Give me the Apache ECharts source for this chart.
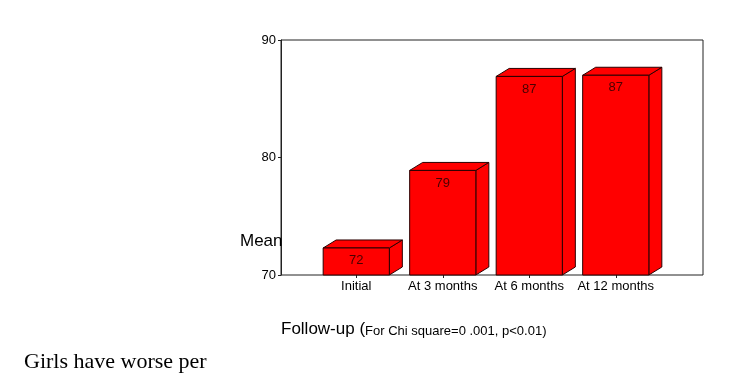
<!DOCTYPE html>
<html>
<head>
<meta charset="utf-8">
<script src="https://cdn.jsdelivr.net/npm/echarts@6/dist/echarts.min.js"></script>
<style>
  html, body { margin: 0; padding: 0; background: #fff; }
  #chart { width: 739px; height: 391px; }
</style>
</head>
<body>
<div id="chart"></div>
<script>
var categories = ['Initial', 'At 3 months', 'At 6 months', 'At 12 months']
var means = [72.3, 78.9, 86.9, 87.0]
var meanLabels = ['72', '79', '87', '87']
var yTicks = [70, 80, 90]

var chart = echarts.init(document.getElementById('chart'))

// draws one 3d box: front face, top, right side
function renderBox(params, api) {
  var idx = api.value(0)
  var top = api.coord([idx, api.value(1)])
  var base = api.coord([idx, yTicks[0]])
  var band = api.size([1, 0])[0]
  var w = band * 0.765
  var dx = 13, dy = 8
  var x0 = top[0] - w / 2, x1 = top[0] + w / 2
  var y0 = top[1], y1 = base[1]
  var edge = { fill: '#ff0000', stroke: '#2a0000', lineWidth: 1 }
  return {
    type: 'group',
    children: [
      {
        type: 'polygon',
        shape: { points: [[x1, y0], [x1 + dx, y0 - dy], [x1 + dx, y1 - dy], [x1, y1]] },
        style: edge
      },
      {
        type: 'polygon',
        shape: { points: [[x0, y0], [x0 + dx, y0 - dy], [x1 + dx, y0 - dy], [x1, y0]] },
        style: edge
      },
      {
        type: 'rect',
        shape: { x: x0, y: y0, width: w, height: y1 - y0 },
        style: edge
      },
      {
        type: 'text',
        style: {
          x: top[0], y: y0 + 6,
          text: meanLabels[params.dataIndex],
          align: 'center', verticalAlign: 'top',
          fill: '#4a0000', font: '13px Arial, "Liberation Sans", sans-serif'
        }
      }
    ]
  }
}

var sans = 'Arial, "Liberation Sans", sans-serif'

var option = {
  animation: false,
  title: [
    {
      text: 'Mean', left: 240, top: 233, padding: 0,
      textStyle: { fontSize: 17, fontWeight: 'normal', color: '#000', fontFamily: sans }
    },
    {
      text: '{a|Follow-up (}{b|For Chi square=0 .001, p<0.01)}', left: 281, top: 321, padding: 0,
      textStyle: {
        fontWeight: 'normal',
        rich: {
          a: { fontSize: 17, fontWeight: 'normal', color: '#000', fontFamily: sans },
          b: { fontSize: 13, fontWeight: 'normal', color: '#000', fontFamily: sans, padding: [3, 0, 0, 0] }
        }
      }
    },
    {
      text: 'Girls have worse per', left: 24, top: 351, padding: 0,
      textStyle: { fontSize: 22, fontWeight: 'normal', color: '#000', fontFamily: '"Liberation Serif", "Times New Roman", serif' }
    }
  ],
  grid: [
    { left: 281, right: 36, top: 40, bottom: 116, show: true, borderColor: '#222', borderWidth: 1 },
    { left: 313, width: 346, top: 40, bottom: 116 }
  ],
  xAxis: [
    { gridIndex: 0, type: 'value', show: false },
    {
      gridIndex: 1, type: 'category', data: categories,
      axisLine: { show: false },
      axisTick: { show: true, alignWithLabel: true, length: 3, interval: 0, lineStyle: { color: '#222' } },
      axisLabel: { color: '#000', fontSize: 13, margin: 5, interval: 0, fontFamily: sans }
    }
  ],
  yAxis: [
    {
      gridIndex: 0, type: 'value', min: 70, max: 90, interval: 10,
      axisLine: { show: true, lineStyle: { color: '#222' } },
      axisTick: { show: true, length: 3, lineStyle: { color: '#222' } },
      axisLabel: { color: '#000', fontSize: 13, margin: 5, fontFamily: sans },
      splitLine: { show: false }
    },
    { gridIndex: 1, type: 'value', min: 70, max: 90, show: false, splitLine: { show: false } }
  ],
  series: [
    {
      type: 'custom',
      xAxisIndex: 1, yAxisIndex: 1,
      renderItem: renderBox,
      data: means.map(function (v, i) { return [i, v] })
    }
  ]
}

chart.setOption(option)
</script>
</body>
</html>
